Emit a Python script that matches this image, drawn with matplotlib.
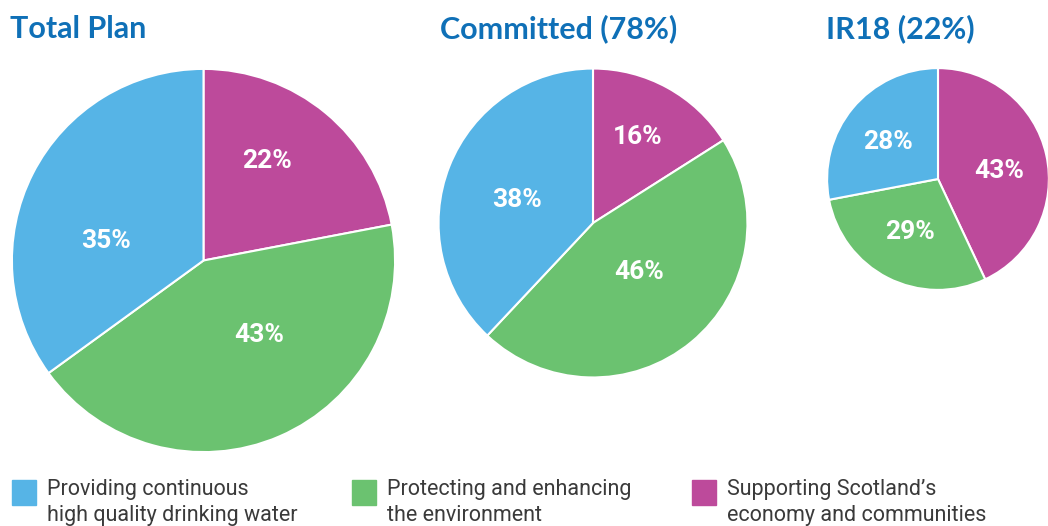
import matplotlib
matplotlib.use('Agg')
import matplotlib.pyplot as plt

# Dados de cada gráfico (ordem: Supporting, Protecting, Providing).
titulos = ['Total Plan', 'Committed (78%)', 'IR18 (22%)']
total_plan = [22, 43, 35]
committed = [16, 46, 38]
ir18 = [43, 29, 28]
categorias = ['Supporting Scotland\u2019s\neconomy and communities',
              'Protecting and enhancing\nthe environment',
              'Providing continuous\nhigh quality drinking water']

cores = ['#bd4a9b', '#6bc270', '#56b4e6']
azul_titulo = '#0f70b7'

# Posição dos rótulos de porcentagem (em unidades do raio).
rotulos_pos = [
    [(0.33, 0.52), (0.29, -0.39), (-0.51, 0.10)],
    [(0.29, 0.56), (0.30, -0.32), (-0.49, 0.15)],
    [(0.55, 0.07), (-0.25, -0.48), (-0.45, 0.33)],
]

W, H = 1048, 526
fig = plt.figure(figsize=(W / 100, H / 100), dpi=100)


def px_axes(x0, y0, w, h):
    # Cria um ax a partir de coordenadas em pixels (origem no topo).
    return fig.add_axes([x0 / W, 1 - (y0 + h) / H, w / W, h / H])


# Posição (esquerda, topo, diâmetro) de cada pizza e x do título.
caixas = [(10, 67, 387), (437, 67, 312), (826, 67, 224)]
x_titulos = [10, 440, 826]
dados = [total_plan, committed, ir18]

for (x0, y0, d), valores, titulo, xt, pos in zip(caixas, dados, titulos,
                                                 x_titulos, rotulos_pos):
    ax = px_axes(x0, y0, d, d)
    wedges, textos, autotextos = ax.pie(
        valores, colors=cores, startangle=90, counterclock=False,
        autopct='%.0f%%', pctdistance=0.55,
        wedgeprops=dict(edgecolor='white', linewidth=1.5),
        textprops=dict(color='white', fontsize=19, fontweight='bold',
                       family=['Roboto', 'DejaVu Sans']))
    for t, p in zip(autotextos, pos):
        t.set_position(p)
    ax.set_xlim(-1.01, 1.01)
    ax.set_ylim(-1.01, 1.01)
    ax.set_aspect('equal')
    ax.axis('off')
    fig.text(xt / W, 1 - 29 / H, titulo, color=azul_titulo, fontsize=22,
             fontweight='bold', ha='left', va='center',
             family=['Lato', 'DejaVu Sans'])

# Legenda manual na parte inferior.
x_leg = [12, 352, 692]
for xl, cor, cat in zip(x_leg, cores[::-1], categorias[::-1]):
    fig.patches.append(plt.Rectangle((xl / W, 1 - 505 / H), 24 / W, 25 / H,
                                     transform=fig.transFigure, color=cor))
    fig.text((xl + 35) / W, 1 - 479 / H, cat, color='#3a3a3a', fontsize=15.5,
             ha='left', va='top', linespacing=1.3,
             family=['Roboto', 'DejaVu Sans'])

plt.savefig('out.png', dpi=100)
